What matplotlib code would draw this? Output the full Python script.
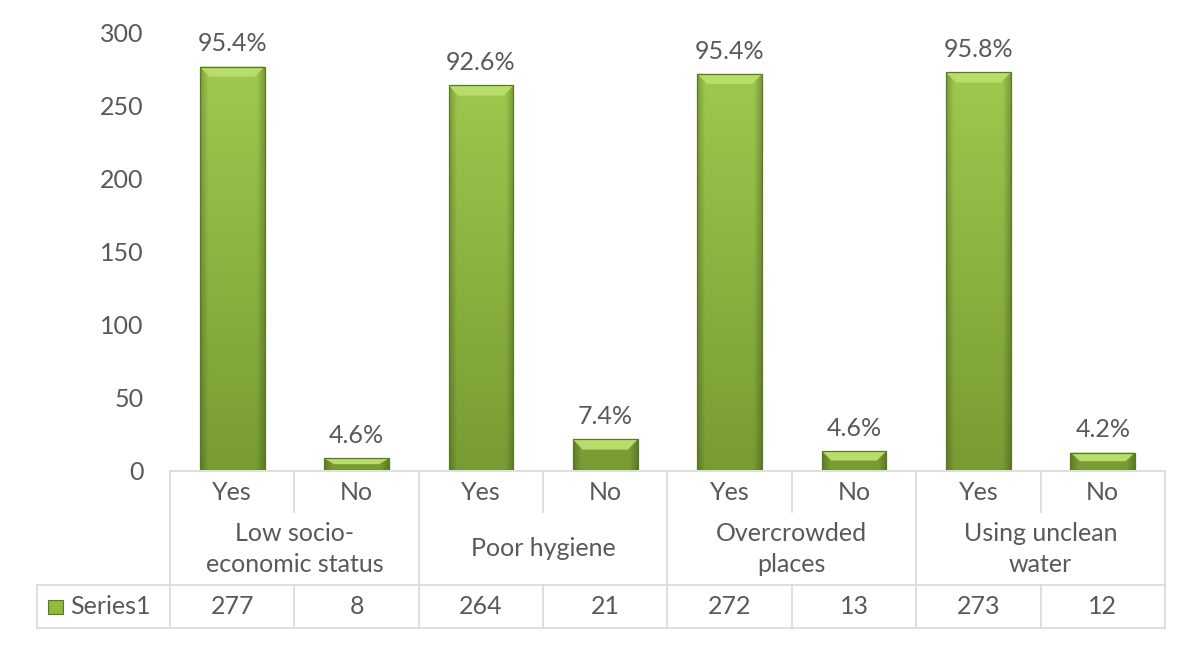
import numpy as np
import matplotlib.pyplot as plt
from matplotlib.patches import Polygon, Rectangle
from matplotlib.colors import to_rgb

plt.rcParams['font.family'] = ['Lato', 'DejaVu Sans']

groups = ["Low socio-\neconomic status", "Poor hygiene", "Overcrowded\nplaces", "Using unclean\nwater"]
answers = ["Yes", "No"]
yes_counts = [277, 264, 272, 273]
no_counts = [8, 21, 13, 12]
yes_pct = ["95.4%", "92.6%", "95.4%", "95.8%"]
no_pct = ["4.6%", "7.4%", "4.6%", "4.2%"]
series_name = "Series1"

counts = []
pcts = []
for i in range(len(groups)):
    counts += [yes_counts[i], no_counts[i]]
    pcts += [yes_pct[i], no_pct[i]]

txt = "#595959"
grid = "#d9d9d9"
fs = 18

W, H = 1201, 651
fig = plt.figure(figsize=(W / 100, H / 100), dpi=100)
x0, x1 = 170, 1165
ytop, ybot = 33, 470
ax = fig.add_axes([x0 / W, 1 - ybot / H, (x1 - x0) / W, (ybot - ytop) / H])

# shading image for bars: darker at the bottom, darker at the sides
dark = np.array(to_rgb("#789b33"))
light = np.array(to_rgb("#a3cd50"))
ty = np.linspace(0, 1, 200)[:, None, None]
col = dark + (light - dark) * ty
u = np.linspace(0, 1, 60)
side = np.clip(np.minimum(u, 1 - u) / 0.12, 0, 1)
fac = (0.78 + 0.22 * side)[None, :, None]
shade = np.clip(col * fac, 0, 1)

x = np.arange(len(counts))
bars = ax.bar(x, counts, width=0.52, color="#8fba3c", edgecolor="none", zorder=2)
for b in bars:
    bx, bw, bh = b.get_x(), b.get_width(), b.get_height()
    im = ax.imshow(shade, extent=[bx, bx + bw, 0, 300], origin='lower', aspect='auto', zorder=2.1)
    im.set_clip_path(b)
    bev = min(7, bh * 0.5)
    ins = bw * 0.15
    top = Polygon([[bx, bh], [bx + bw, bh], [bx + bw - ins, bh - bev], [bx + ins, bh - bev]],
                  closed=True, facecolor="#b9dd6a", edgecolor="none", zorder=2.2)
    ax.add_patch(top)
    ax.add_patch(Rectangle((bx, 0), bw, bh, fill=False, edgecolor="#5a7a22", linewidth=0.9, zorder=2.3))

for b, p in zip(bars, pcts):
    ax.annotate(p, (b.get_x() + b.get_width() / 2, b.get_height()), xytext=(0, 8),
                textcoords="offset points", ha="center", va="bottom", fontsize=fs, color=txt)

ax.set_xlim(-0.5, len(counts) - 0.5)
ax.set_ylim(0, 300)
ax.set_yticks(range(0, 301, 50))
ax.tick_params(axis='y', length=0, pad=19, labelsize=fs, labelcolor=txt)
ax.set_xticks([])
for s in ax.spines.values():
    s.set_visible(False)

# data table under the plot
t0, t1 = 471, 628
tax = fig.add_axes([x0 / W, 1 - t1 / H, (x1 - x0) / W, (t1 - t0) / H])
tax.set_xlim(-0.5, len(counts) - 0.5)
tax.set_ylim(t1 - t0, 0)
tax.axis('off')
r1, r2, r3 = 41, 114, 157
cw = (x1 - x0) / len(counts)
leg_left = -0.5 - (x0 - 37) / cw
kw = dict(color=grid, lw=1.2, clip_on=False)
tax.plot([-0.5, 7.5], [0, 0], **kw)
tax.plot([leg_left, 7.5], [r2, r2], **kw)
tax.plot([leg_left, 7.5], [r3, r3], **kw)
tax.plot([leg_left, leg_left], [r2, r3], **kw)
for xb in [-0.5, 1.5, 3.5, 5.5, 7.5]:
    tax.plot([xb, xb], [0, r3], **kw)
for xb in [0.5, 2.5, 4.5, 6.5]:
    tax.plot([xb, xb], [0, r1], **kw)
    tax.plot([xb, xb], [r2, r3], **kw)

for i in range(len(counts)):
    tax.text(i, 21, answers[i % 2], ha="center", va="center", fontsize=fs, color=txt)
    tax.text(i, 136, str(counts[i]), ha="center", va="center", fontsize=fs, color=txt)
for g, name in enumerate(groups):
    tax.text(2 * g + 0.5, 78, name, ha="center", va="center", fontsize=fs, color=txt, linespacing=1.4)

sq_x = -0.5 - (x0 - 48) / cw
tax.add_patch(Rectangle((sq_x, 129), 15 / cw, 14, facecolor="#8fba3c", edgecolor="#5a7a22",
                        lw=0.8, clip_on=False))
tax.text(-0.5 - (x0 - 70) / cw, 136, series_name, ha="left", va="center", fontsize=fs, color=txt,
         clip_on=False)

fig.savefig("out.png", dpi=100)
